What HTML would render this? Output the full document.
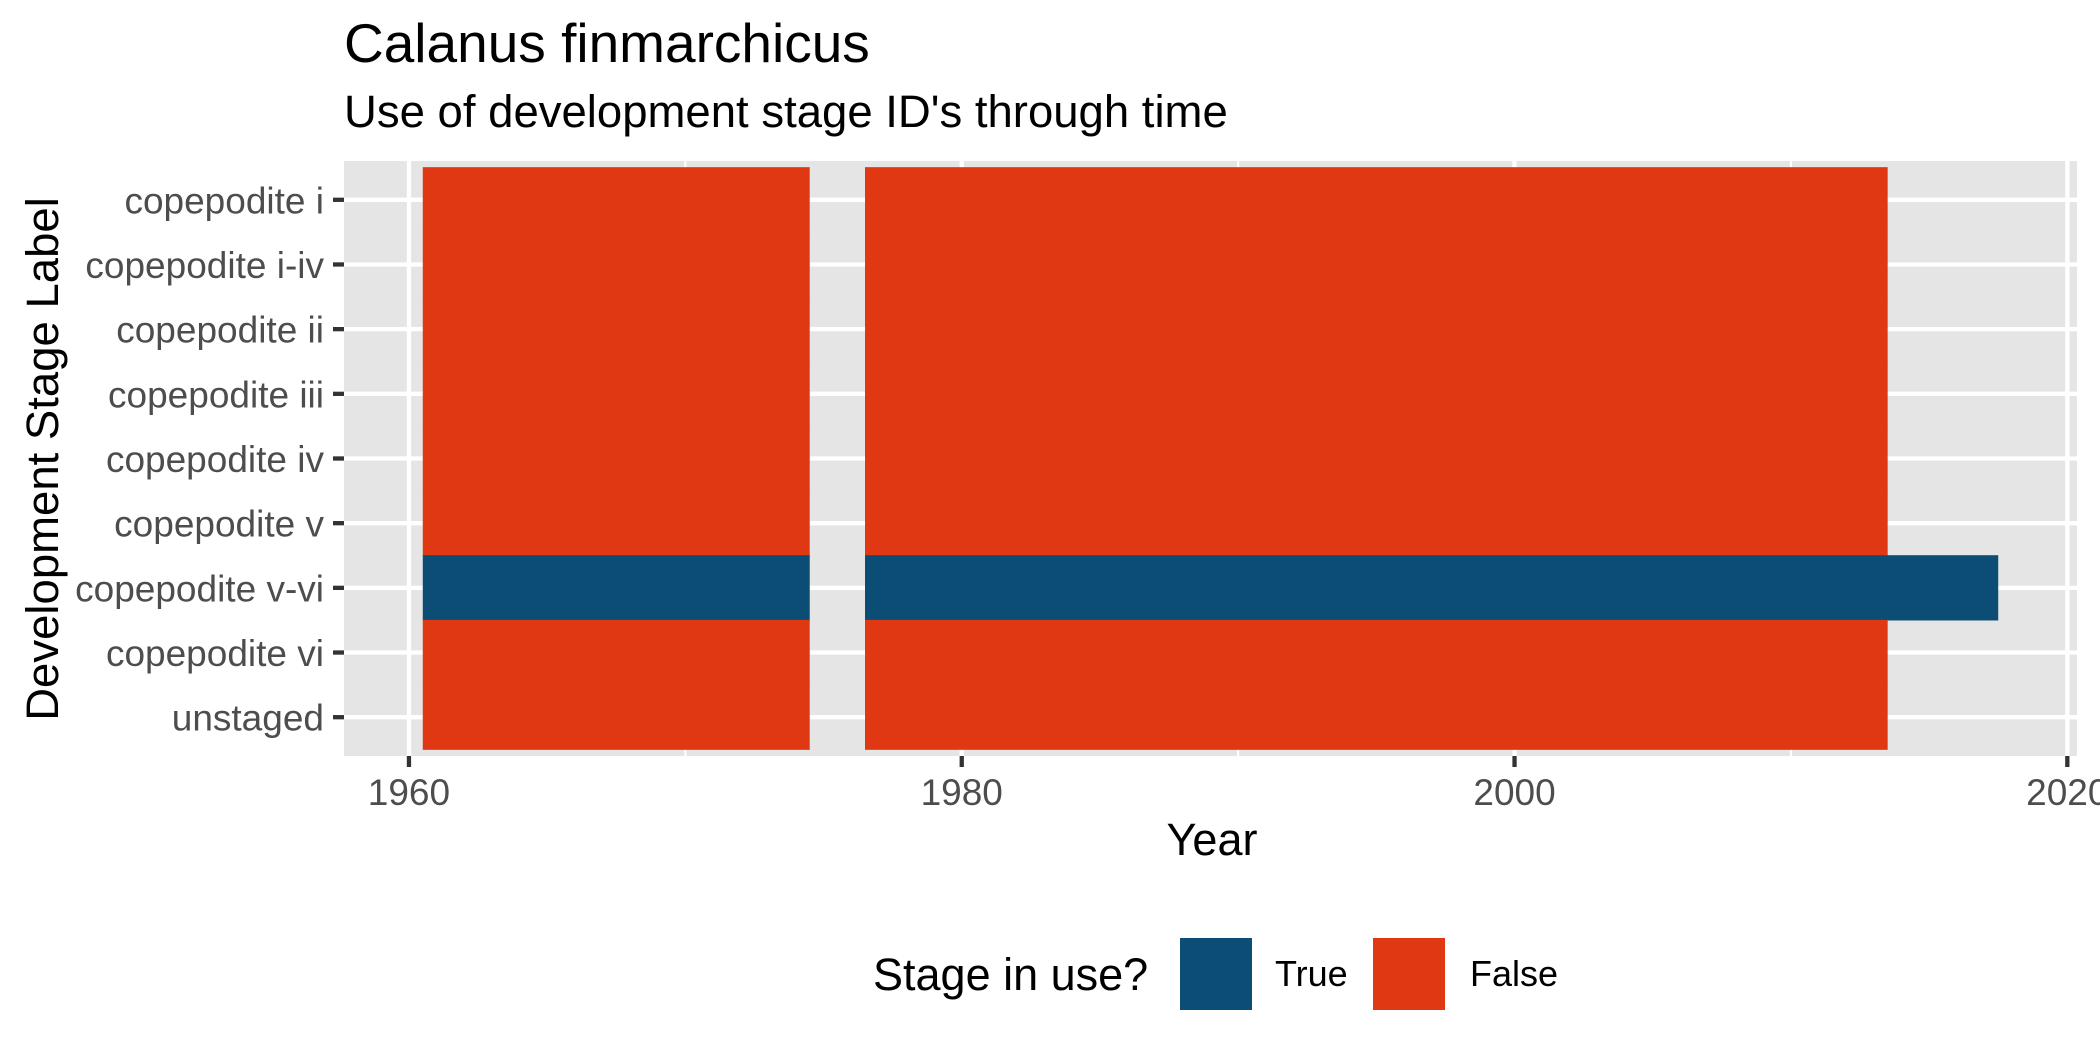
<!DOCTYPE html>
<html><head><meta charset="utf-8"><style>
html,body{margin:0;padding:0;background:#fff;}
svg{display:block;font-family:"Liberation Sans",Arial,sans-serif;}
</style></head><body>
<svg id="chart" width="2100" height="1050" viewBox="0 0 2100 1050" xmlns="http://www.w3.org/2000/svg">
<text x="344" y="62" font-size="55" fill="#000">Calanus finmarchicus</text>
<text x="344" y="127" font-size="45.5" fill="#000">Use of development stage ID's through time</text>
<rect x="344" y="161" width="1733" height="595" fill="#e5e5e5"/>
<g id="grid"></g>
<g id="bars"></g>
<g id="yaxis"></g>
<g id="xaxis"></g>
<text x="1212" y="855" font-size="45" text-anchor="middle" fill="#000">Year</text>
<text transform="translate(58,459) rotate(-90)" font-size="45.5" text-anchor="middle" fill="#000">Development Stage Label</text>
<g>
<text x="873" y="990" font-size="45" fill="#000">Stage in use?</text>
<rect x="1180" y="938" width="72" height="72" fill="#0b4d75"/>
<text x="1275" y="986" font-size="36" fill="#000">True</text>
<rect x="1373" y="938" width="72" height="72" fill="#e03812"/>
<text x="1470" y="986" font-size="36" fill="#000">False</text>
</g>
</svg>
<script>
const stages = ["copepodite i","copepodite i-iv","copepodite ii","copepodite iii","copepodite iv","copepodite v","copepodite v-vi","copepodite vi","unstaged"];
const xTicks = [1960,1980,2000,2020];
const xMinor = [1970,1990,2010];
const segStage = ["copepodite i","copepodite i-iv","copepodite ii","copepodite iii","copepodite iv","copepodite v","copepodite v-vi","copepodite vi","unstaged",
                  "copepodite i","copepodite i-iv","copepodite ii","copepodite iii","copepodite iv","copepodite v","copepodite v-vi","copepodite vi","unstaged"];
const segStart = [1961,1961,1961,1961,1961,1961,1961,1961,1961, 1977,1977,1977,1977,1977,1977,1977,1977,1977];
const segEnd   = [1974,1974,1974,1974,1974,1974,1974,1974,1974, 2013,2013,2013,2013,2013,2013,2017,2013,2013];
const segInUse = [false,false,false,false,false,false,true,false,false, false,false,false,false,false,false,true,false,false];

const NS="http://www.w3.org/2000/svg";
const PL=344,PR=2077,PT=161,PB=756;
const xmin=1957.65,xmax=2020.35;
const X=v=>PL+(v-xmin)/(xmax-xmin)*(PR-PL);
const band=(PB-PT)/(stages.length+0.2);
const Y=s=>PT+(0.6+stages.indexOf(s))*band;
function mk(tag,attrs,parent){const e=document.createElementNS(NS,tag);for(const k in attrs)e.setAttribute(k,attrs[k]);parent.appendChild(e);return e;}
const grid=document.getElementById('grid');
xMinor.forEach(v=>{const l=mk('line',{x1:X(v),x2:X(v),y1:PT,y2:PB,stroke:'#fff','stroke-width':2.1},grid);

});
xTicks.forEach(v=>{const l=mk('line',{x1:X(v),x2:X(v),y1:PT,y2:PB,stroke:'#fff','stroke-width':4.3},grid);

});
stages.forEach(s=>{const l=mk('line',{x1:PL,x2:PR,y1:Y(s),y2:Y(s),stroke:'#fff','stroke-width':4.3},grid);

});
const bars=document.getElementById('bars');
segStage.forEach((s,i)=>{const r=mk('rect',{x:X(segStart[i]-0.5),width:X(segEnd[i]+0.5)-X(segStart[i]-0.5),y:Y(s)-band/2-0.3,height:band+0.6,fill:segInUse[i]?'#0b4d75':'#e03812'},bars);

});
const ya=document.getElementById('yaxis');
stages.forEach(s=>{const t=mk('line',{x1:333,x2:PL,y1:Y(s),y2:Y(s),stroke:'#333','stroke-width':4.3},ya);


const tx=mk('text',{x:324,y:Y(s)+13.5,'font-size':37,'text-anchor':'end',fill:'#4d4d4d'},ya);tx.textContent=s;

});
const xa=document.getElementById('xaxis');
xTicks.forEach(v=>{const t=mk('line',{x1:X(v),x2:X(v),y1:PB,y2:PB+11,stroke:'#333','stroke-width':4.3},xa);


const tx=mk('text',{x:X(v),y:805,'font-size':37,'text-anchor':'middle',fill:'#4d4d4d'},xa);tx.textContent=v;

});
</script>
</body></html>
